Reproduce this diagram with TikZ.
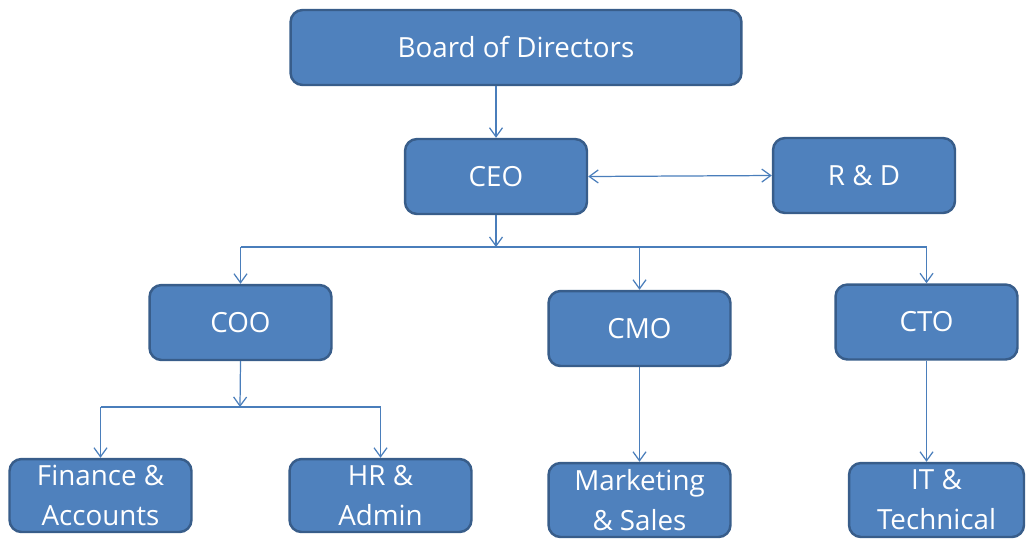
\documentclass[tikz,border=0pt]{standalone}
\usepackage{fontspec}
\setmainfont{Open Sans}
\usetikzlibrary{arrows.meta}

\definecolor{boxFill}{HTML}{4F81BD}
\definecolor{boxLine}{HTML}{385D8A}
\definecolor{linkLine}{HTML}{4A7EBB}

\begin{document}
\begin{tikzpicture}[x=0.02cm,y=-0.02cm,
  box/.style={draw=boxLine,fill=boxFill,line width=1.4pt,rounded corners=0.24cm,
    text=white,align=center,font=\fontsize{15.8}{22.8}\selectfont,
    minimum width=3.64cm,minimum height=1.5cm,inner sep=0pt},
  link/.style={draw=linkLine,line width=0.7pt},
  tip/.style={link,-{Straight Barb[length=1.8mm,width=2.6mm]}},
  tips/.style={link,{Straight Barb[length=1.8mm,width=2.6mm]}-{Straight Barb[length=1.8mm,width=2.6mm]}}]

\useasboundingbox (0,0) rectangle (1026,539);

\node[box,minimum width=9.02cm] (tBoard) at (516,47.5) {Board of Directors};

\node[box] (tCEO) at (496,176.5) {CEO};
\node[box] (tRD) at (864,175.5) {R \& D};

\node[box] (tCOO) at (240.5,322.5) {COO};
\node[box] (tCMO) at (639.5,328.5) {CMO};
\node[box] (tCTO) at (926.5,322) {CTO};

\node[box,minimum height=1.46cm] (tFin) at (100.5,495.5) {Finance \&\\Accounts};
\node[box,minimum height=1.46cm] (tHR) at (380.5,495.5) {HR \&\\Admin};
\node[box,minimum height=1.48cm] (tMkt) at (639.5,500) {Marketing\\\& Sales};
\node[box,minimum width=3.5cm,minimum height=1.48cm] (tIT) at (936.5,500) {IT \&\\Technical};

% junctions
\coordinate (jCEO) at (496,247);
\coordinate (jCOO) at (240,407);

\draw[tip] (tBoard.south -| tCEO.north) -- (tCEO.north);
\draw[tips] (tCEO.east) -- (tRD.west);

\draw[tip] (tCEO.south) -- (jCEO);
\draw[link] (tCOO.north |- jCEO) -- (tCTO.north |- jCEO);
\draw[tip] (tCOO.north |- jCEO) -- (tCOO.north);
\draw[tip] (tCMO.north |- jCEO) -- (tCMO.north);
\draw[tip] (tCTO.north |- jCEO) -- (tCTO.north);

\draw[tip] (tCOO.south) -- (jCOO);
\draw[link] (tFin.north |- jCOO) -- (tHR.north |- jCOO);
\draw[tip] (tFin.north |- jCOO) -- (tFin.north);
\draw[tip] (tHR.north |- jCOO) -- (tHR.north);

\draw[tip] (tCMO.south) -- (tMkt.north);
\draw[tip] (tCTO.south) -- (tCTO.south |- tIT.north);

\end{tikzpicture}
\end{document}
